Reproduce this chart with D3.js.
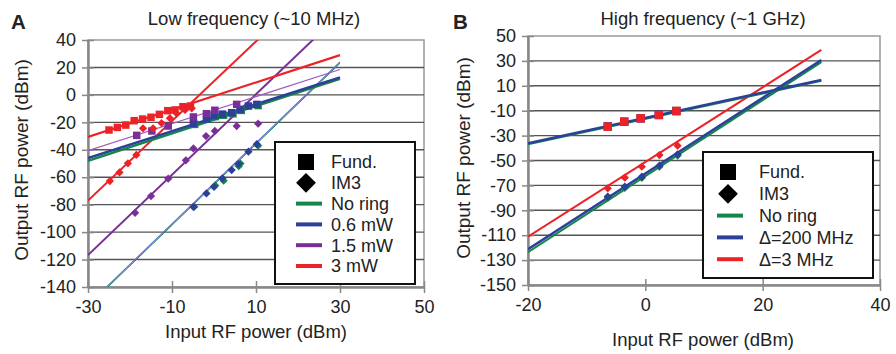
<!DOCTYPE html>
<html><head><meta charset="utf-8">
<script src="https://cdn.jsdelivr.net/npm/d3@7"></script>
<style>body{margin:0;background:#fff}svg{display:block}text{font-family:"Liberation Sans",Arial,sans-serif;fill:#222}</style>
</head><body><svg id="c" width="896" height="354"></svg>
<script>
// ---------- Panel A data (Low frequency) ----------
const aXTicks = [-30, -10, 10, 30, 50];
const aYTicks = [40, 20, 0, -20, -40, -60, -80, -100, -120, -140];
const aFitX = [-30, 30];
const aRedFundFit = [-30.7, 29];
const aRedIM3Fit = [-77, 97];
const aPurpleFundFit = [-40.7, 18.5];
const aPurpleIM3Fit = [-116.7, 59];
const aBlueFundFit = [-46, 12.8];
const aBlueIM3Fit = [-153, 24];
const aGreenFundFit = [-48, 11.8];
const aGreenIM3Fit = [-154, 23];

const aRedFundX = [-25, -23, -21, -19, -17, -15, -13, -11, -9.3, -7.4, -5.6];
const aRedFundY = [-25.6, -23.7, -22, -18.8, -17.6, -16.3, -14.2, -11.5, -11, -8.6, -8.1];
const aRedIM3X = [-24.8, -22.5, -20.5, -18.5, -16.9, -14.5, -12.5, -10.5, -8.9, -6.9, -5.3];
const aRedIM3Y = [-62.8, -56.5, -49.9, -43.8, -24.4, -24.4, -20.5, -17, -13.5, -11, -9.8];
const aPurpleFundX = [-18.4, -14.8, -10.9, -4.9, -1.8, 0.2, 5.4];
const aPurpleFundY = [-29.5, -26.3, -22.7, -16.1, -13.7, -11.2, -6.9];
const aPurpleIM3X = [-18.8, -15, -10.9, -6.7, -4.9, -1.9, 0.2, 5.4, 10.5];
const aPurpleIM3Y = [-85.9, -73.7, -61.1, -47.7, -39, -30, -26.3, -22.7, -21];
const aBlueFundX = [-4.9, -1.8, 0, 2, 4.2, 6.2, 8.2, 10.2];
const aBlueFundY = [-20.7, -17.5, -15, -14, -13, -10.5, -8.1, -6.9];
const aBlueIM3X = [-4.9, -1.8, 0, 2, 4.2, 5.8, 8.2, 10.2];
const aBlueIM3Y = [-81.7, -71.8, -67, -60.8, -54.8, -50.4, -41.4, -35.9];
const aGreenFundX = [-4.6, 0.3, 2.3, 4.5, 6.5, 10.5];
const aGreenFundY = [-21.5, -15.8, -14.8, -13.8, -11.3, -7.8];
const aGreenIM3X = [-4.7, 0.3, 2.3, 5.9, 6.3, 10.5];
const aGreenIM3Y = [-81.5, -66, -62.5, -52, -50, -37];

// ---------- Panel B data (High frequency) ----------
const bXTicks = [-20, 0, 20, 40];
const bYTicks = [50, 30, 10, -10, -30, -50, -70, -90, -110, -130, -150];
const bFitX = [-20, 30];
const bGreenFundFit = [-37, 14];
const bBlueFundFit = [-36.2, 14.7];
const bRedIM3Fit = [-111.2, 38.8];
const bBlueIM3Fit = [-121.3, 30.7];
const bGreenIM3Fit = [-123.7, 29];
const bFundX = [-6.4, -3.6, -0.8, 2.3, 5.3];
const bBlueFundY = [-22.6, -18.9, -16.2, -13.3, -10.3];
const bRedFundY = [-22.8, -18.8, -16.1, -13.5, -10.2];
const bIM3X = [-6.4, -3.5, -0.6, 2.4, 5.5];
const bRedIM3Y = [-72.3, -63.8, -55, -45.6, -38.1];
const bBlueIM3Y = [-79, -71, -63, -54.2, -45];
const bGreenIM3Y = [-80, -72, -64, -55, -46];

const C = {red: "#ec2227", purple: "#7a2f98", purpleThin: "#a45cc4", blue: "#2c3f99", blueThin: "#6a70d0", green: "#13864a"};
const aLegendLabels = ["No ring", "0.6 mW", "1.5 mW", "3 mW"];
const aLegendColors = [C.green, C.blue, C.purple, C.red];
const bLegendLabels = ["No ring", "Δ=200 MHz", "Δ=3 MHz"];
const bLegendColors = [C.green, C.blue, C.red];

const svg = d3.select("#c");
const FONT = "Liberation Sans, Arial, sans-serif";

function panel(cfg) {
  const x = d3.scaleLinear().domain(cfg.xDomain).range([cfg.left, cfg.right]);
  const y = d3.scaleLinear().domain(cfg.yDomain).range([cfg.bottom, cfg.top]);
  const g = svg.append("g");
  g.append("rect").attr("x", cfg.left).attr("y", cfg.top).attr("width", cfg.right - cfg.left)
    .attr("height", cfg.bottom - cfg.top).attr("fill", "none").attr("stroke", "#999").attr("stroke-width", 1.5);
  g.selectAll(".grid").data(cfg.yTicks.slice(1, -1)).join("line")
    .attr("x1", cfg.left).attr("x2", cfg.right).attr("y1", d => y(d)).attr("y2", d => y(d))
    .attr("stroke", "#555").attr("stroke-width", 1.4);
  const fmt = d => String(d);
  const ya = d3.axisLeft(y).tickValues(cfg.yTicks).tickFormat(fmt).tickSize(6).tickSizeOuter(0);
  const yg = g.append("g").attr("transform", `translate(${cfg.left},0)`).call(ya);
  yg.select(".domain").attr("stroke", "#888").attr("stroke-width", 2.5);
  yg.selectAll(".tick line").attr("stroke", "#888").attr("stroke-width", 1.5).attr("x1", 6);
  yg.selectAll(".tick text").attr("font-size", 18).attr("fill", "#222").attr("x", -12)
    .style("font-family", FONT);
  const xa = d3.axisBottom(x).tickValues(cfg.xTicks).tickFormat(fmt).tickSize(6).tickSizeOuter(0);
  const xg = g.append("g").attr("transform", `translate(0,${cfg.bottom})`).call(xa);
  xg.select(".domain").attr("stroke", "#888").attr("stroke-width", 2.5);
  xg.selectAll(".tick line").attr("stroke", "#888").attr("stroke-width", 1.5).attr("y1", -6);
  xg.selectAll(".tick text").attr("font-size", 18).attr("fill", "#222").attr("y", 13)
    .style("font-family", FONT);
  const cid = "clip" + cfg.id;
  svg.append("clipPath").attr("id", cid).append("rect").attr("x", cfg.left).attr("y", cfg.top)
    .attr("width", cfg.right - cfg.left).attr("height", cfg.bottom - cfg.top);
  const plot = g.append("g").attr("clip-path", `url(#${cid})`);
  const line = d3.line().x(d => x(d[0])).y(d => y(d[1]));
  cfg.fits.forEach(f => {
    plot.append("path").datum(cfg.fitX.map((v, i) => [v, f.ys[i]])).attr("d", line)
      .attr("fill", "none").attr("stroke", f.color).attr("stroke-width", f.w);
  });
  const sq = d3.symbol().type(d3.symbolSquare);
  cfg.marks.forEach(m => {
    const pts = m.xs.map((v, i) => [v, m.ys[i]]);
    plot.selectAll(null).data(pts).join("path")
      .attr("d", sq.size(m.size)())
      .attr("transform", d => `translate(${x(d[0])},${y(d[1])})` + (m.diamond ? " rotate(45)" : ""))
      .attr("fill", m.color);
  });
  svg.append("text").attr("x", cfg.titleX).attr("y", 25).attr("text-anchor", "middle")
    .attr("font-size", 18.5).text(cfg.title);
  svg.append("text").attr("x", cfg.letterX).attr("y", 29).attr("font-size", 20.5).attr("font-weight", "bold").attr("fill", "#111").text(cfg.letter);
  svg.append("text").attr("transform", `translate(${cfg.yLabelX},${cfg.yLabelY}) rotate(-90)`)
    .attr("text-anchor", "middle").attr("font-size", 19).text("Output RF power (dBm)");
  svg.append("text").attr("x", cfg.xLabelX).attr("y", cfg.xLabelY).attr("text-anchor", "middle")
    .attr("font-size", 18.5).text("Input RF power (dBm)");
  const L = cfg.legend;
  const lg = svg.append("g");
  lg.append("rect").attr("x", L.x).attr("y", L.y).attr("width", L.w).attr("height", L.h)
    .attr("fill", "#fff").attr("stroke", "#111").attr("stroke-width", 2);
  lg.append("path").attr("d", sq.size(L.sq * L.sq)()).attr("transform", `translate(${L.symX},${L.row0})`).attr("fill", "#000");
  lg.append("path").attr("d", sq.size(L.dm * L.dm)()).attr("transform", `translate(${L.symX},${L.row0 + L.step}) rotate(45)`).attr("fill", "#000");
  const items = ["Fund.", "IM3"].concat(L.labels);
  items.forEach((t, i) => {
    lg.append("text").attr("x", L.textX).attr("y", L.row0 + i * L.step).attr("dy", "0.36em")
      .attr("font-size", 18).text(t);
  });
  L.labels.forEach((t, i) => {
    lg.append("line").attr("x1", L.lx1).attr("x2", L.lx2)
      .attr("y1", L.row0 + (i + 2) * L.step).attr("y2", L.row0 + (i + 2) * L.step)
      .attr("stroke", L.colors[i]).attr("stroke-width", 4);
  });
}

panel({
  id: "A", xDomain: [-30, 50], yDomain: [-140, 40], left: 88, right: 424, top: 40, bottom: 287,
  xTicks: aXTicks, yTicks: aYTicks, fitX: aFitX,
  title: "Low frequency (~10 MHz)", titleX: 254, letter: "A", letterX: 11, yLabelX: 28, yLabelY: 160,
  xLabelX: 256, xLabelY: 338,
  fits: [
    {ys: aGreenIM3Fit, color: C.green, w: 1},
    {ys: aBlueIM3Fit, color: C.blueThin, w: 1.2},
    {ys: aPurpleIM3Fit, color: C.purple, w: 2},
    {ys: aRedIM3Fit, color: C.red, w: 2},
    {ys: aGreenFundFit, color: C.green, w: 2.5},
    {ys: aBlueFundFit, color: C.blue, w: 2.5},
    {ys: aPurpleFundFit, color: C.purpleThin, w: 1.3},
    {ys: aRedFundFit, color: C.red, w: 2.2}
  ],
  marks: [
    {xs: aGreenFundX, ys: aGreenFundY, color: C.green, size: 56},
    {xs: aGreenIM3X, ys: aGreenIM3Y, color: C.green, size: 34, diamond: true},
    {xs: aBlueFundX, ys: aBlueFundY, color: C.blue, size: 56},
    {xs: aBlueIM3X, ys: aBlueIM3Y, color: C.blue, size: 34, diamond: true},
    {xs: aPurpleFundX, ys: aPurpleFundY, color: C.purple, size: 56},
    {xs: aPurpleIM3X, ys: aPurpleIM3Y, color: C.purple, size: 34, diamond: true},
    {xs: aRedFundX, ys: aRedFundY, color: C.red, size: 56},
    {xs: aRedIM3X, ys: aRedIM3Y, color: C.red, size: 34, diamond: true}
  ],
  legend: {x: 275, y: 142, w: 140, h: 142, symX: 306, row0: 162, step: 20.8, textX: 331, lx1: 296, lx2: 322,
    sq: 16, dm: 14, labels: aLegendLabels, colors: aLegendColors}
});

panel({
  id: "B", xDomain: [-20, 40], yDomain: [-150, 50], left: 528, right: 880, top: 36, bottom: 285,
  xTicks: bXTicks, yTicks: bYTicks, fitX: bFitX,
  title: "High frequency (~1 GHz)", titleX: 703, letter: "B", letterX: 453, yLabelX: 470, yLabelY: 158,
  xLabelX: 703, xLabelY: 346,
  fits: [
    {ys: bGreenIM3Fit, color: C.green, w: 2},
    {ys: bBlueIM3Fit, color: C.blue, w: 2.5},
    {ys: bRedIM3Fit, color: C.red, w: 2},
    {ys: bGreenFundFit, color: C.green, w: 2},
    {ys: bBlueFundFit, color: C.blue, w: 2.5}
  ],
  marks: [
    {xs: bFundX, ys: bBlueFundY, color: C.blue, size: 72},
    {xs: bFundX, ys: bRedFundY, color: C.red, size: 72},
    {xs: bIM3X, ys: bGreenIM3Y, color: C.green, size: 34, diamond: true},
    {xs: bIM3X, ys: bBlueIM3Y, color: C.blue, size: 34, diamond: true},
    {xs: bIM3X, ys: bRedIM3Y, color: C.red, size: 34, diamond: true}
  ],
  legend: {x: 703, y: 152, w: 170, h: 126, symX: 728, row0: 172, step: 21.8, textX: 759, lx1: 717, lx2: 743,
    sq: 16, dm: 14, labels: bLegendLabels, colors: bLegendColors}
});
</script></body></html>
